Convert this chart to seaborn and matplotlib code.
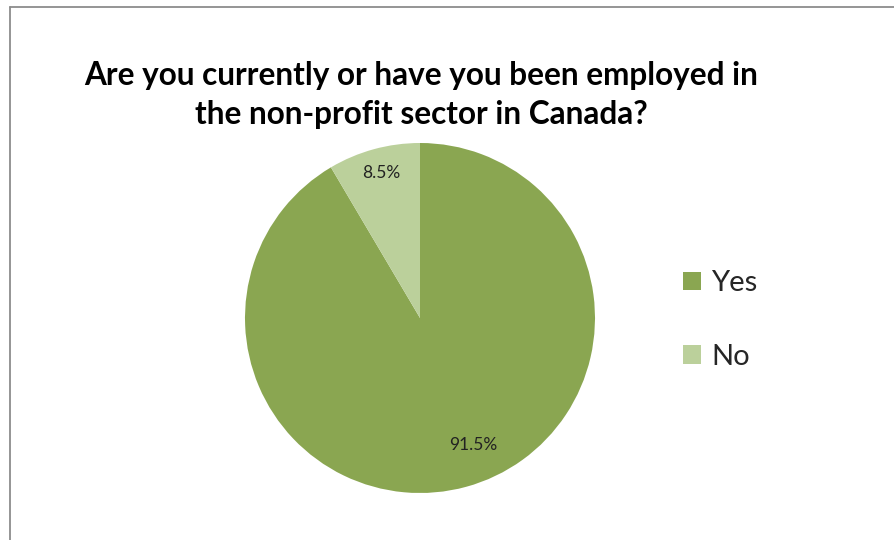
import matplotlib
matplotlib.use("Agg")
import matplotlib.pyplot as plt
from matplotlib.lines import Line2D
from matplotlib.patches import Patch
import seaborn as sns

# Survey responses
categories = ["Yes", "No"]
shares = [91.5, 8.5]
colors = ["#8aa651", "#bbd09b"]

sns.set_theme(style="white")
plt.rcParams["font.family"] = ["Lato", "DejaVu Sans"]
palette = sns.color_palette(colors)

W, H = 895, 540
fig = plt.figure(figsize=(W / 100, H / 100), dpi=100)
fig.patch.set_facecolor("white")

# Pie axes: centre (420, 318) px, radius 175 px
cx, cy, r = 420, 318, 175
ax = fig.add_axes([(cx - r) / W, (H - cy - r) / H, 2 * r / W, 2 * r / H])
wedges, texts, autotexts = ax.pie(
    shares,
    colors=palette,
    startangle=90,
    counterclock=False,
    radius=1,
    autopct=lambda p: f"{p:.1f}%",
    pctdistance=0.8,
    textprops={"fontsize": 12.5, "color": "#222222"},
    wedgeprops={"linewidth": 0},
)
# best-fit label placement
autotexts[0].set_position((0.303, -0.726))
autotexts[1].set_position((-0.223, 0.829))
ax.set_xlim(-1, 1)
ax.set_ylim(-1, 1)
ax.set_aspect("equal")
ax.axis("off")

# Title
fig.text(421 / W, 1 - 95 / H,
         "Are you currently or have you been employed in\nthe non-profit sector in Canada?",
         ha="center", va="center", fontsize=22.7, fontweight="bold",
         linespacing=1.38, color="black")

# Legend
handles = [Patch(facecolor=c, edgecolor="none", label=l) for c, l in zip(palette, categories)]
fig.legend(handles=handles, loc="center left", bbox_to_anchor=(657 / W, 1 - 320 / H),
           frameon=False, fontsize=21, handlelength=0.6, handleheight=0.6,
           handletextpad=0.35, labelspacing=1.62)

# Chart frame (left and top edges)
fig.add_artist(Line2D([10.5 / W, 10.5 / W], [0, 1 - 7 / H], transform=fig.transFigure,
                      color="#8c8c8c", linewidth=1.3))
fig.add_artist(Line2D([10 / W, 1], [1 - 7 / H, 1 - 7 / H], transform=fig.transFigure,
                      color="#8c8c8c", linewidth=1.3))

fig.savefig("out.png", dpi=100, facecolor="white")
